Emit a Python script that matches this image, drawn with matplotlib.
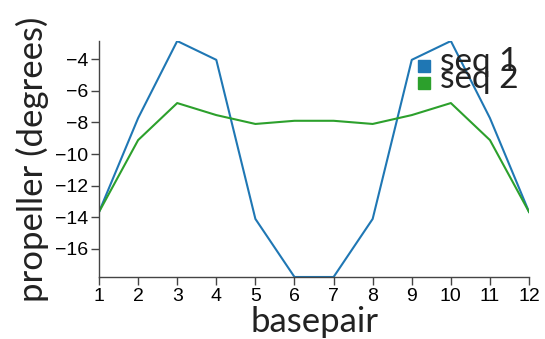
import numpy as np
import matplotlib.pyplot as plt
from matplotlib.patches import Rectangle

basepair = [1, 2, 3, 4, 5, 6, 7, 8, 9, 10, 11, 12]
seq1 = [-13.66, -7.73, -2.86, -4.05, -14.1, -17.77, -17.77, -14.1, -4.05, -2.86, -7.73, -13.66]
seq2 = [-13.66, -9.12, -6.78, -7.54, -8.1, -7.9, -7.9, -8.1, -7.54, -6.78, -9.12, -13.66]
names = ["seq 1", "seq 2"]
colors = ["#1f77b4", "#2ca02c"]

fig = plt.figure(figsize=(5.45, 3.39), dpi=100)
ax = fig.add_axes([0.1817, 0.1829, 0.789, 0.6961])

ax.plot(basepair, seq1, color=colors[0], linewidth=1.5)
ax.plot(basepair, seq2, color=colors[1], linewidth=1.5)

ax.set_xlim(1, 12)
ax.set_ylim(min(seq1 + seq2), max(seq1 + seq2))
ax.set_xticks(basepair)
ax.set_yticks(np.arange(-16, -3, 2))

for s in ["top", "right"]:
    ax.spines[s].set_visible(False)
for s in ["left", "bottom"]:
    ax.spines[s].set_color("#444444")
    ax.spines[s].set_linewidth(1.0)
ax.tick_params(direction="out", length=6, width=1, color="#444444", labelsize=14, pad=2)
for lab in ax.get_xticklabels() + ax.get_yticklabels():
    lab.set_family("Liberation Sans")

ax.set_xlabel("basepair", fontsize=25, family="Lato", labelpad=1, color="#222222")
ax.set_ylabel("propeller (degrees)", fontsize=25, family="Lato", labelpad=4, color="#222222")

# legend drawn by hand so the two entries overlap like the original
W, H = 545, 339
sq = 12
for i, (name, c) in enumerate(zip(names, colors)):
    cy = 66 + 17 * i
    fig.add_artist(Rectangle((418 / W, 1 - (cy + sq / 2) / H), sq / W, sq / H,
                             transform=fig.transFigure, color=c))
    fig.text(440 / W, 1 - (cy - 4) / H, name, fontsize=24, family="Lato",
             va="center", ha="left", color="#222222")

fig.savefig("out.png", dpi=100)
